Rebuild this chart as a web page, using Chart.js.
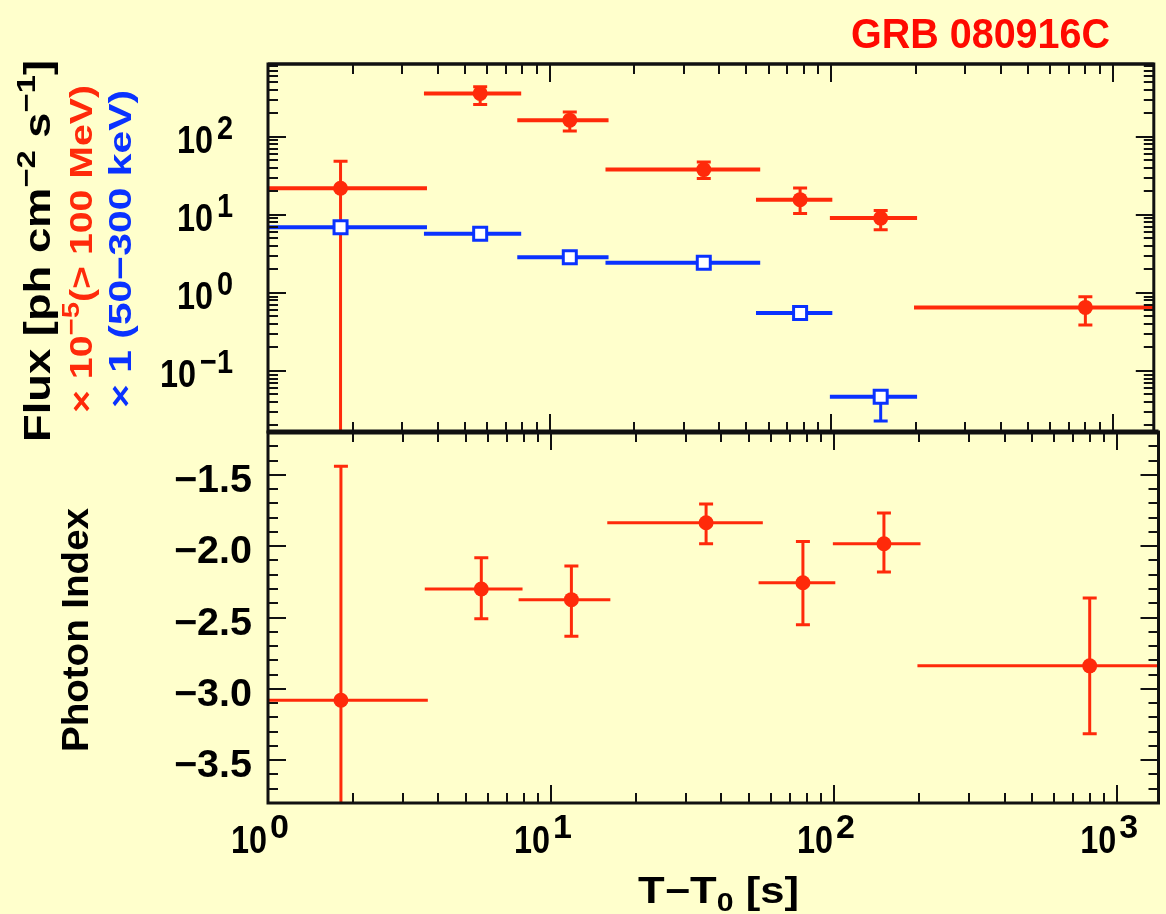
<!DOCTYPE html>
<html>
<head>
<meta charset="utf-8">
<script src="https://cdn.jsdelivr.net/npm/chart.js@4.4.1/dist/chart.umd.min.js"></script>
<style>
  html, body { margin: 0; padding: 0; background: #ffffcc; }
  .wrap { position: relative; width: 1166px; height: 914px; }
  canvas { position: absolute; left: 0; top: 0; }
</style>
</head>
<body>
<div class="wrap">
  <canvas id="fluxChart" width="1166" height="914"></canvas>
  <canvas id="indexChart" width="1166" height="914"></canvas>
</div>
<script>
// time bins (s)
const timeMid = [1.81, 5.67, 11.8, 35.3, 77.6, 150, 800];
const timeLow = [0.5, 3.58, 7.68, 15.8, 54.1, 99, 197];
const timeHigh = [3.67, 7.93, 16.2, 56, 101, 202, 1400];

// LAT flux x 1e-5 (> 100 MeV)
const latFlux = [22, 361, 164, 38.1, 15.7, 9.1, 0.653];
const latFluxUp = [48.7, 440, 209, 47.7, 22.1, 11.4, 0.895];
const latFluxDown = [0.001, 261, 119, 29.2, 10.4, 6.46, 0.388];

// GBM flux x 1 (50-300 keV)
const gbmFlux = [6.97, 5.73, 2.87, 2.43, 0.553, 0.0468];
const gbmFluxUp = [7.3, 6.0, 3.0, 2.55, 0.58, 0.053];
const gbmFluxDown = [6.6, 5.45, 2.75, 2.3, 0.525, 0.0229];

// photon index
const photonIndex = [-3.08, -2.30, -2.375, -1.836, -2.256, -1.983, -2.839];
const photonIndexUp = [-1.44, -2.081, -2.139, -1.705, -1.967, -1.768, -2.363];
const photonIndexDown = [-4.5, -2.508, -2.632, -1.983, -2.55, -2.181, -3.315];

// tick labels
const xTickValues = [1, 10, 100, 1000];
const xTickExps = ['0', '1', '2', '3'];
const fluxTickValues = [0.1, 1, 10, 100];
const fluxTickExps = ['\u22121', '0', '1', '2'];
const indexTickValues = [-1.5, -2.0, -2.5, -3.0, -3.5];
const indexTickLabels = ['\u22121.5', '\u22122.0', '\u22122.5', '\u22123.0', '\u22123.5'];

const X_MIN = 1, X_MAX = 1400;
const FLUX_MIN = 0.0165, FLUX_MAX = 860;
const INDEX_MIN = -3.8, INDEX_MAX = -1.2;

const RED = '#ff2a0a';
const BLUE = '#0a32ff';
const FONT = '"Liberation Sans", Arial, sans-serif';

function logTicks(min, max) {
    const ticks = [];
    for (let d = -3; d <= 4; d++) {
        for (let m = 1; m <= 9; m++) {
            const v = m * Math.pow(10, d);
            if (v >= min * 0.999 && v <= max * 1.001) ticks.push({ v, major: m === 1 });
        }
    }
    return ticks;
}

function linTicks(min, max) {
    const ticks = [];
    for (let k = Math.ceil(min * 10); k <= Math.floor(max * 10); k++) {
        ticks.push({ v: k / 10, major: k % 5 === 0 });
    }
    return ticks;
}

// text made of pieces of different size / offset, optionally rotated
function richText(ctx, parts, x, y, o) {
    ctx.save();
    ctx.translate(x, y);
    if (o.rotate) ctx.rotate(-Math.PI / 2);
    const weight = o.weight || 'bold';
    let total = 0;
    parts.forEach(p => {
        ctx.font = `${weight} ${p.size}px ${FONT}`;
        p.w = ctx.measureText(p.t).width;
        total += p.w;
    });
    const sx = o.width ? o.width / total : 1;
    ctx.scale(sx, 1);
    let cx = o.align === 'right' ? -total : (o.align === 'center' ? -total / 2 : 0);
    ctx.fillStyle = o.color || '#000';
    ctx.textBaseline = 'alphabetic';
    ctx.textAlign = 'left';
    parts.forEach(p => {
        ctx.font = `${weight} ${p.size}px ${FONT}`;
        ctx.fillText(p.t, cx, p.dy || 0);
        cx += p.w;
    });
    ctx.restore();
}

// error bars drawn just before each dataset's own markers
const errorBars = {
    id: 'errorBars',
    beforeDatasetDraw(chart, args) {
        const ds = chart.data.datasets[args.index];
        if (!ds.err) return;
        const { ctx, chartArea: a } = chart;
        const xs = chart.scales.x, ys = chart.scales.y;
        const e = ds.err;
        ctx.save();
        ctx.beginPath();
        ctx.rect(a.left, a.top, a.right - a.left, a.bottom - a.top);
        ctx.clip();
        ctx.strokeStyle = ds.borderColor;
        ds.data.forEach((pt, i) => {
            const px = xs.getPixelForValue(pt.x);
            const py = ys.getPixelForValue(pt.y);
            const x0 = xs.getPixelForValue(e.xLow[i]);
            const x1 = xs.getPixelForValue(e.xHigh[i]);
            const y0 = ys.getPixelForValue(e.yLow[i]);
            const y1 = ys.getPixelForValue(e.yHigh[i]);
            ctx.lineWidth = e.hWidth;
            ctx.beginPath();
            ctx.moveTo(x0, py);
            ctx.lineTo(x1, py);
            ctx.stroke();
            ctx.lineWidth = 3;
            ctx.beginPath();
            ctx.moveTo(px, y0);
            ctx.lineTo(px, y1);
            ctx.moveTo(px - 7, y0);
            ctx.lineTo(px + 7, y0);
            ctx.moveTo(px - 7, y1);
            ctx.lineTo(px + 7, y1);
            ctx.stroke();
        });
        ctx.restore();
    }
};

function frameTicks(yTicks, topWidth) {
    return {
        id: 'frameTicks',
        afterDatasetsDraw(chart) {
            const { ctx, chartArea: a } = chart;
            const xs = chart.scales.x, ys = chart.scales.y;
            ctx.save();
            ctx.strokeStyle = '#111';
            ctx.lineWidth = 2;
            ctx.beginPath();
            logTicks(X_MIN, X_MAX).forEach(t => {
                const px = Math.round(xs.getPixelForValue(t.v));
                const len = t.major ? 18 : 10;
                ctx.moveTo(px, a.top);
                ctx.lineTo(px, a.top + len);
                ctx.moveTo(px, a.bottom);
                ctx.lineTo(px, a.bottom - len);
            });
            yTicks.forEach(t => {
                const py = Math.round(ys.getPixelForValue(t.v));
                const len = t.major ? 18 : 10;
                ctx.moveTo(a.left, py);
                ctx.lineTo(a.left + len, py);
                ctx.moveTo(a.right, py);
                ctx.lineTo(a.right - len, py);
            });
            ctx.stroke();
            ctx.lineWidth = 3;
            ctx.strokeRect(a.left, a.top, a.right - a.left, a.bottom - a.top);
            ctx.lineWidth = topWidth;
            ctx.beginPath();
            ctx.moveTo(a.left, a.top);
            ctx.lineTo(a.right, a.top);
            ctx.stroke();
            ctx.restore();
        }
    };
}

const fluxLabels = {
    id: 'fluxLabels',
    afterDraw(chart) {
        const ctx = chart.ctx;
        const ys = chart.scales.y;
        fluxTickValues.forEach((v, i) => {
            const py = ys.getPixelForValue(v);
            ctx.save();
            ctx.font = `bold 34px ${FONT}`;
            const ew = ctx.measureText(fluxTickExps[i]).width * 0.85;
            ctx.restore();
            richText(ctx, [{ t: fluxTickExps[i], size: 34 }], 233, py + 2, { align: 'right', width: ew });
            richText(ctx, [{ t: '10', size: 38 }], 233 - ew - 4, py + 16, { align: 'right', width: 36 });
        });
        richText(ctx, [
            { t: 'Flux [ph cm', size: 36 },
            { t: '\u22122', size: 26, dy: -15 },
            { t: ' s', size: 36 },
            { t: '\u22121', size: 26, dy: -15 },
            { t: ']', size: 36 }
        ], 50, 442, { rotate: true, width: 382 });
        richText(ctx, [
            { t: '\u00d7 10', size: 32 },
            { t: '\u22125', size: 24, dy: -13 },
            { t: '(> 100 MeV)', size: 32 }
        ], 92, 413, { rotate: true, width: 328, color: RED });
        richText(ctx, [{ t: '\u00d7 1 (50\u2212300 keV)', size: 32 }],
            131, 408, { rotate: true, width: 318, color: BLUE });
        richText(ctx, [{ t: 'GRB 080916C', size: 42 }], 851, 48, { width: 259, color: '#ff0a00' });
    }
};

const indexLabels = {
    id: 'indexLabels',
    afterDraw(chart) {
        const ctx = chart.ctx;
        const xs = chart.scales.x, ys = chart.scales.y;
        indexTickValues.forEach((v, i) => {
            const py = ys.getPixelForValue(v);
            richText(ctx, [{ t: indexTickLabels[i], size: 38 }], 252, py + 17, { align: 'right', width: 78 });
        });
        xTickValues.forEach((v, i) => {
            const px = xs.getPixelForValue(v);
            richText(ctx, [{ t: '10', size: 38 }], px - 1, 853, { align: 'right', width: 36 });
            richText(ctx, [{ t: xTickExps[i], size: 34 }], px + 2, 838, {});
        });
        richText(ctx, [{ t: 'Photon Index', size: 36 }], 88, 752, { rotate: true, width: 244 });
        richText(ctx, [
            { t: 'T\u2212T', size: 36 },
            { t: '0', size: 25, dy: 8 },
            { t: ' [s]', size: 36 }
        ], 638, 903, { width: 161 });
    }
};

function points(xArr, yArr) {
    return yArr.map((y, i) => ({ x: xArr[i], y }));
}

const commonX = { type: 'logarithmic', min: X_MIN, max: X_MAX, display: false };

new Chart(document.getElementById('fluxChart'), {
    type: 'scatter',
    data: {
        datasets: [
            {
                label: 'GBM 50-300 keV',
                data: points(timeMid, gbmFlux),
                pointStyle: 'rect',
                pointRadius: 9.2,
                backgroundColor: '#ffffff',
                borderColor: BLUE,
                borderWidth: 3,
                err: { xLow: timeLow, xHigh: timeHigh, yLow: gbmFluxDown, yHigh: gbmFluxUp, hWidth: 4 }
            },
            {
                label: 'LAT > 100 MeV',
                data: points(timeMid, latFlux),
                pointStyle: 'circle',
                pointRadius: 7.5,
                backgroundColor: RED,
                borderColor: RED,
                borderWidth: 0,
                err: { xLow: timeLow, xHigh: timeHigh, yLow: latFluxDown, yHigh: latFluxUp, hWidth: 4 }
            }
        ]
    },
    options: {
        responsive: false,
        animation: false,
        events: [],
        layout: { padding: { left: 268, right: 2, top: 64, bottom: 914 - 432 } },
        plugins: { legend: { display: false }, tooltip: { enabled: false } },
        scales: {
            x: commonX,
            y: { type: 'logarithmic', min: FLUX_MIN, max: FLUX_MAX, display: false }
        }
    },
    plugins: [errorBars, frameTicks(logTicks(FLUX_MIN, FLUX_MAX), 3), fluxLabels]
});

new Chart(document.getElementById('indexChart'), {
    type: 'scatter',
    data: {
        datasets: [{
            label: 'Photon index',
            data: points(timeMid, photonIndex),
            pointStyle: 'circle',
            pointRadius: 7.5,
            backgroundColor: RED,
            borderColor: RED,
            borderWidth: 0,
            err: { xLow: timeLow, xHigh: timeHigh, yLow: photonIndexDown, yHigh: photonIndexUp, hWidth: 3 }
        }]
    },
    options: {
        responsive: false,
        animation: false,
        events: [],
        layout: { padding: { left: 268, right: 2, top: 432, bottom: 914 - 803 } },
        plugins: { legend: { display: false }, tooltip: { enabled: false } },
        scales: {
            x: commonX,
            y: { type: 'linear', min: INDEX_MIN, max: INDEX_MAX, display: false }
        }
    },
    plugins: [errorBars, frameTicks(linTicks(INDEX_MIN, INDEX_MAX), 5), indexLabels]
});
</script>
</body>
</html>
